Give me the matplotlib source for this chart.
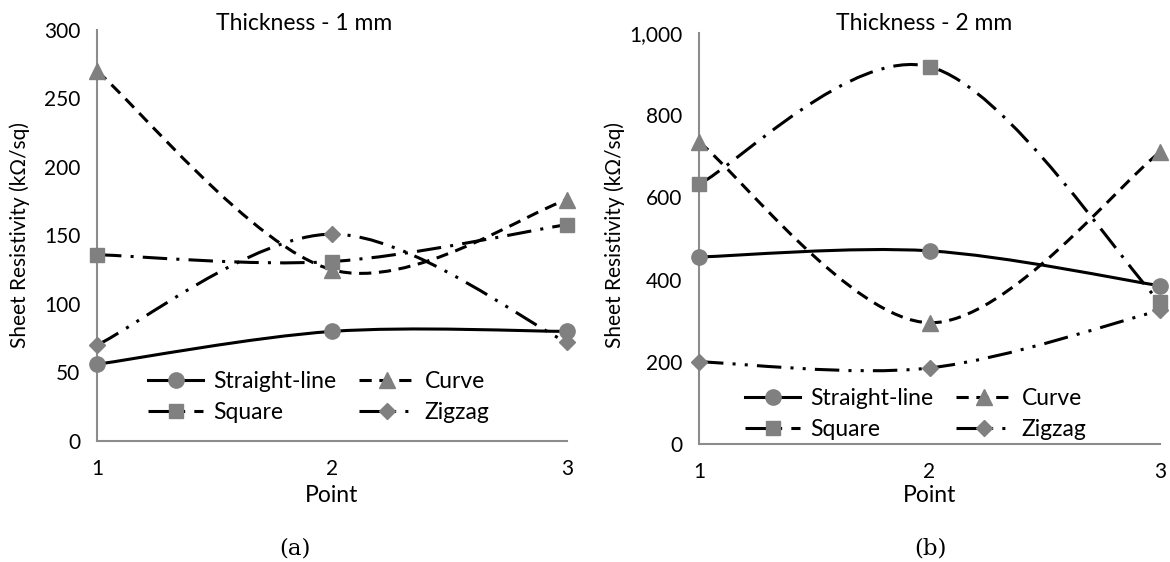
import numpy as np
import matplotlib
matplotlib.use("Agg")
import matplotlib.pyplot as plt
from matplotlib.path import Path
from matplotlib.patches import PathPatch
from matplotlib.lines import Line2D
from matplotlib.ticker import FuncFormatter

plt.rcParams['font.family'] = ['Lato', 'DejaVu Sans']

points = [1, 2, 3]
series_names = ["Straight-line", "Curve", "Square", "Zigzag"]

# Thickness 1 mm
t1_straight = [56, 80, 80]
t1_curve = [270, 125, 176]
t1_square = [136, 131, 158]
t1_zigzag = [70, 151, 72]

# Thickness 2 mm
t2_straight = [455, 470, 385]
t2_curve = [735, 295, 710]
t2_square = [632, 918, 345]
t2_zigzag = [200, 185, 325]

titles = ["Thickness - 1 mm", "Thickness - 2 mm"]
panel_labels = ["(a)", "(b)"]

W, H = 1170, 562
fig = plt.figure(figsize=(W / 100, H / 100), dpi=100)

GRAY = "#808080"
SPINE = "#8c8c8c"
FS_TICK = 15
FS_TEXT = 16.5
FS_YLAB = 15

styles = [
    dict(ls="-", marker="o", ms=11),
    dict(ls=(0, (4, 2.5)), marker="^", ms=11),
    dict(ls=(0, (8, 3, 1, 3)), marker="s", ms=10),
    dict(ls=(0, (8, 3, 1, 3, 1, 3)), marker="D", ms=8),
]
LW = 2.2


def smooth_path(xs, ys):
    """Excel-like smoothed line: cubic Bezier with Catmull-Rom control points."""
    p = np.column_stack([xs, ys]).astype(float)
    n = len(p)
    verts = [p[0]]
    codes = [Path.MOVETO]
    for i in range(n - 1):
        p0 = p[i - 1] if i > 0 else p[i]
        p1 = p[i]
        p2 = p[i + 1]
        p3 = p[i + 2] if i + 2 < n else p[i + 1]
        c1 = p1 + (p2 - p0) / 6.0
        c2 = p2 - (p3 - p1) / 6.0
        verts += [c1, c2, p2]
        codes += [Path.CURVE4] * 3
    return Path(verts, codes)


def px_rect(x0, y_top, x1, y_bot):
    return [x0 / W, 1 - y_bot / H, (x1 - x0) / W, (y_bot - y_top) / H]


panels = [
    dict(rect=px_rect(97, 30, 567, 441), data=[t1_straight, t1_curve, t1_square, t1_zigzag],
         ylim=(0, 300), yticks=np.arange(0, 301, 50), title_x=304,
         ylab_x=20, leg=(148, 378), plab_x=295),
    dict(rect=px_rect(699, 33, 1160, 444), data=[t2_straight, t2_curve, t2_square, t2_zigzag],
         ylim=(0, 1000), yticks=np.arange(0, 1001, 200), title_x=924,
         ylab_x=615, leg=(745, 395), plab_x=930),
]

# legend order: row 1 = Straight-line, Curve ; row 2 = Square, Zigzag
leg_order = [0, 2, 1, 3]

for k, pn in enumerate(panels):
    ax = fig.add_axes(pn["rect"])
    ax.set_xlim(1, 3)
    ax.set_ylim(*pn["ylim"])
    ax.set_xticks(points)
    ax.set_yticks(pn["yticks"])
    ax.yaxis.set_major_formatter(FuncFormatter(lambda v, p: f"{v:,.0f}"))
    for s in ["top", "right"]:
        ax.spines[s].set_visible(False)
    for s in ["left", "bottom"]:
        ax.spines[s].set_color(SPINE)
        ax.spines[s].set_linewidth(1.5)
    ax.tick_params(axis="both", length=0, labelsize=FS_TICK)
    ax.tick_params(axis="x", pad=13)
    ax.tick_params(axis="y", pad=12)
    ax.patch.set_visible(False)

    handles = []
    for vals, st, name in zip(pn["data"], styles, series_names):
        patch = PathPatch(smooth_path(points, vals), fill=False, edgecolor="black",
                          lw=LW, linestyle=st["ls"], capstyle="butt", zorder=3,
                          clip_on=False)
        ax.add_patch(patch)
        ax.plot(points, vals, linestyle="none", marker=st["marker"], ms=st["ms"],
                color=GRAY, mec=GRAY, zorder=4, clip_on=False)
        handles.append(Line2D([], [], color="black", lw=LW, linestyle=st["ls"],
                              marker=st["marker"], ms=st["ms"], mfc=GRAY, mec=GRAY))

    lx, ly = pn["leg"]
    ax.legend([handles[i] for i in leg_order], [series_names[i] for i in leg_order],
              ncol=2, frameon=False, fontsize=FS_TEXT,
              loc="center left", bbox_to_anchor=(lx / W, 1 - (ly + 19) / H),
              bbox_transform=fig.transFigure, handlelength=2.4, handletextpad=0.45,
              columnspacing=1.0, labelspacing=0.45, borderpad=0, borderaxespad=0,
              numpoints=1)

    fig.text(pn["title_x"] / W, 1 - 23 / H, titles[k], ha="center", va="center",
             fontsize=FS_TEXT)
    fig.text(pn["ylab_x"] / W, 1 - 235 / H, "Sheet Resistivity (kΩ/sq)", rotation=90,
             ha="center", va="center", fontsize=FS_YLAB)
    fig.text((pn["rect"][0] + pn["rect"][2] / 2), 1 - 496 / H, "Point", ha="center",
             va="center", fontsize=FS_TEXT)
    fig.text(pn["plab_x"] / W, 1 - 548 / H, panel_labels[k], ha="center", va="center",
             fontsize=FS_TEXT, family="DejaVu Serif")

fig.savefig("out.png", dpi=100, facecolor="white")
